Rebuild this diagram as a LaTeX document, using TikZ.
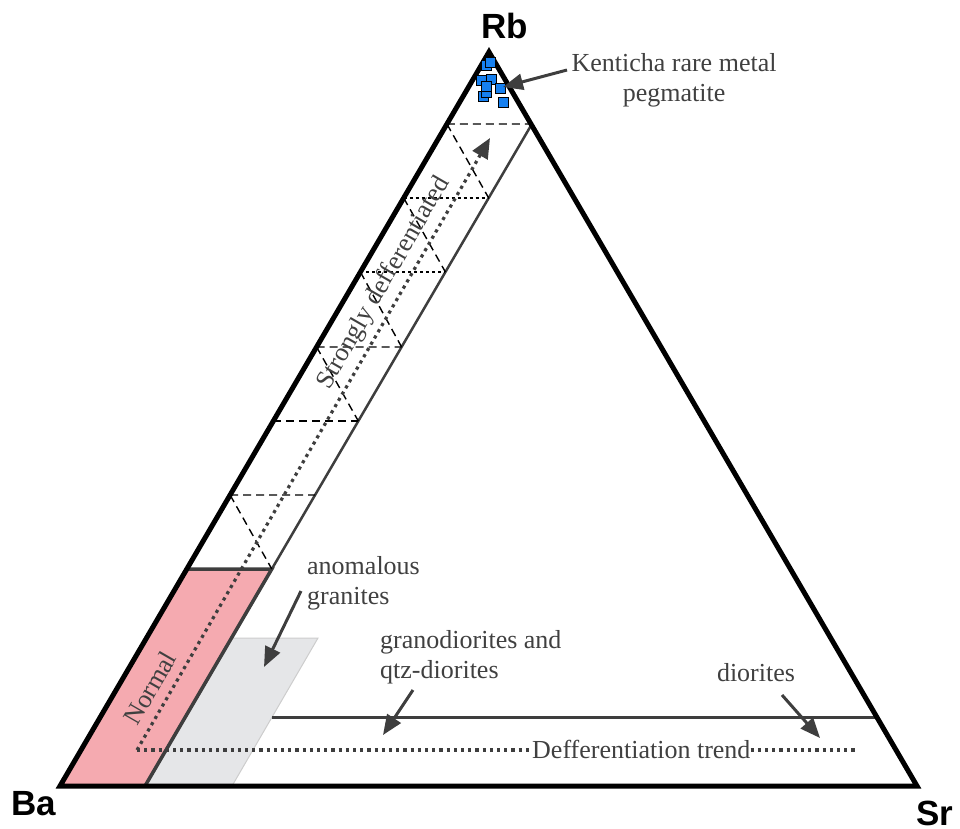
\documentclass[tikz,border=0pt]{standalone}
\usepackage{fontspec}
\setmainfont{Liberation Serif}
\newfontfamily\cornerfont{Liberation Sans}
\usetikzlibrary{arrows.meta}
\definecolor{normalpink}{RGB}{245,170,176}
\definecolor{anomgray}{RGB}{229,230,232}
\definecolor{anomedge}{RGB}{205,205,205}
\definecolor{linegray}{RGB}{62,62,62}
\definecolor{textgray}{RGB}{64,64,64}
\definecolor{sampleblue}{RGB}{22,128,240}

\begin{document}
\begin{tikzpicture}[x=1pt,y=-1pt,
  corner/.style={font=\cornerfont\bfseries\fontsize{35}{40}\selectfont,inner sep=0pt},
  note/.style={text=textgray,font=\fontsize{26}{30}\selectfont,inner sep=0pt},
  arr/.style={draw=linegray,line width=3pt,-{Triangle[length=20pt,width=16pt]}},
  trend/.style={draw=linegray,line width=3.2pt,dash pattern=on 3.2pt off 4pt},
  ladder/.style={line width=1.4pt,dash pattern=on 8pt off 5pt},
  fineladder/.style={line width=1.4pt,dash pattern=on 3pt off 3pt},
  sample/.style={draw=black,line width=1pt,fill=sampleblue,minimum size=10pt,inner sep=0pt}]

\useasboundingbox (0,0) rectangle (960,828);

\draw [anomedge, fill=anomgray, line width=1pt] (145,786) -- (232,786) -- (318,638) -- (231.5,638) -- cycle ;
\draw [linegray, fill=normalpink, line width=3.5pt, line join=miter] (60,786) -- (145,786) -- (271.8,569) -- (186.8,569) -- cycle ;
\draw [linegray, line width=2.5pt] (145,786) -- (531.9,124) ;
\draw [linegray, line width=3pt] (272.3,717) -- (876.8,717) ;

\draw [ladder] (446.9,124) -- (531.9,124) (446.9,124) -- (488.7,198) ;
\draw [fineladder] (403.7,198) -- (488.7,198) ;
\draw [ladder] (403.7,198) -- (445.4,272) ;
\draw [fineladder] (360.4,272) -- (445.4,272) ;
\draw [ladder] (360.4,272) -- (401.6,347) ;
\draw [ladder] (316.6,347) -- (401.6,347) (316.6,347) -- (358.3,421) ;
\draw [ladder] (273.3,421) -- (358.3,421) ;
\draw [ladder] (230.1,495) -- (315.1,495) (230.1,495) -- (271.8,569) ;

\coordinate (bend) at (137,750) ;
\coordinate (trendtip) at (490,138) ;
\coordinate (trendend) at (858,750) ;
\node [note, anchor=base west] (dtrend) at (532,758) {Defferentiation trend};
\draw [trend, -{Triangle[length=20pt,width=17pt]}] (bend) -- (trendtip) ;
\draw [trend] (bend) -- (bend -| dtrend.west) (dtrend.east |- bend) -- (trendend) ;

\draw [line width=5pt, line join=miter] (60,786) -- (917,786) -- (489,52) -- cycle ;

\foreach \i/\px/\py in {1/486.7/65,2/490/62.7,3/481.7/80,4/491.7/79.3,5/483.3/96,
  6/486.7/92.7,7/486.7/86.7,8/500/88.3,9/503.3/102.7}
  \node [sample] (s\i) at (\px,\py) {};

\node [corner, anchor=base] (rb) at (505,38) {Rb};
\node [corner, anchor=base] (ba) at (34,815) {Ba};
\node [corner, anchor=base] (sr) at (935,825) {Sr};

\node [note, align=center] (kent) at (674,80) {Kenticha rare metal\\pegmatite};
\node [note, align=left, anchor=north west] (anom) at (307,556) {anomalous\\granites};
\node [note, align=left, anchor=north west] (grano) at (380,630) {granodiorites and\\qtz-diorites};
\node [note, anchor=base] (dior) at (756,681) {diorites};
\node [note, rotate=60] (strong) at (384,283) {Strongly defferentiated};
\node [note, rotate=60] (normal) at (150,688) {Normal};

\coordinate (kenttail) at (567,70) ;
\coordinate (kenttip) at (503,87) ;
\coordinate (anomtail) at (301,591) ;
\coordinate (anomtip) at (264,667) ;
\coordinate (granotail) at (413,690) ;
\coordinate (granotip) at (383,735) ;
\coordinate (diortail) at (782,695) ;
\coordinate (diortip) at (820,738) ;
\draw [arr] (kenttail) -- (kenttip) ;
\draw [arr] (anomtail) -- (anomtip) ;
\draw [arr] (granotail) -- (granotip) ;
\draw [arr] (diortail) -- (diortip) ;
\end{tikzpicture}
\end{document}
